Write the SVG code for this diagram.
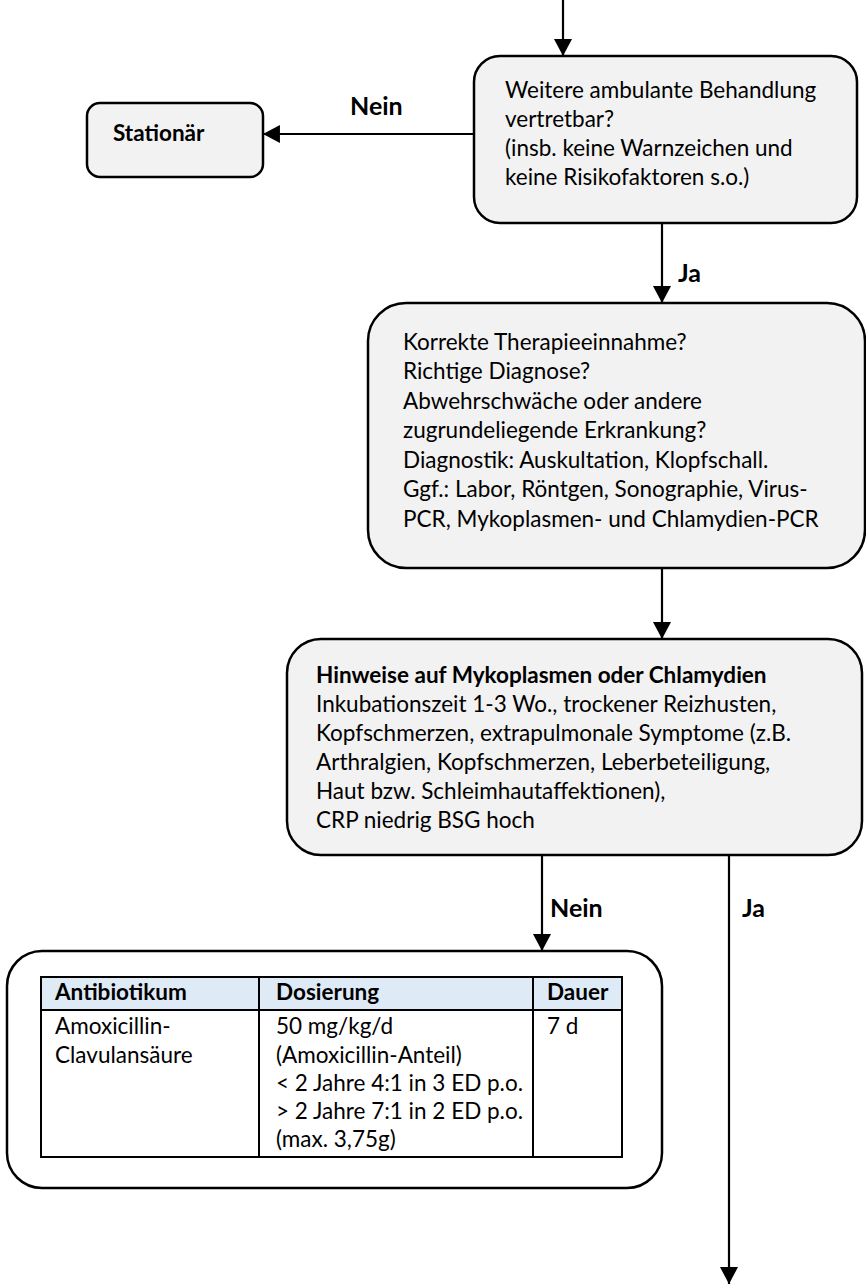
<svg xmlns="http://www.w3.org/2000/svg" width="866" height="1285" viewBox="0 0 866 1285">
  <style>
    .box { fill: #F2F2F2; stroke: #000; stroke-width: 2.5; }
    .frame { fill: #FFFFFF; stroke: #000; stroke-width: 2.5; }
    .txt { font-family: Lato, "Liberation Sans", sans-serif; font-size: 22.5px; fill: #000; }
    .b { font-weight: bold; }
    .lbl { font-family: Lato, "Liberation Sans", sans-serif; font-size: 25px; font-weight: bold; fill: #000; }
    .edge { stroke: #000; stroke-width: 2.2; fill: none; marker-end: url(#arrow); }
    .cell { fill: none; stroke: #000; stroke-width: 2; }
  </style>
  <defs>
    <marker id="arrow" markerUnits="userSpaceOnUse" markerWidth="18" markerHeight="18" viewBox="0 0 16 17" refX="16" refY="8.5" orient="auto">
      <path d="M0,0 L16,8.5 L0,17 z" fill="#000"/>
    </marker>
  </defs>

  <rect width="866" height="1285" fill="#FFFFFF"/>

  <!-- connectors and branch labels -->
  <g id="connectors">
    <line class="edge" x1="563" y1="0" x2="563" y2="56"/>
    <line class="edge" x1="474" y1="134" x2="263" y2="134"/>
    <text class="lbl" x="350" y="115">Nein</text>
    <line class="edge" x1="662" y1="223" x2="662" y2="303"/>
    <text class="lbl" x="678" y="282">Ja</text>
    <line class="edge" x1="662" y1="568" x2="662" y2="639"/>
    <line class="edge" x1="542" y1="855" x2="542" y2="951"/>
    <text class="lbl" x="550" y="917">Nein</text>
    <line class="edge" x1="729" y1="855" x2="729" y2="1284"/>
    <text class="lbl" x="742" y="917">Ja</text>
  </g>

  <!-- decision: outpatient treatment -->
  <g id="node-ambulant">
    <rect class="box" x="474" y="56" width="383" height="167" rx="26"/>
    <text class="txt" x="505" y="98">Weitere ambulante Behandlung</text>
    <text class="txt" x="505" y="127">vertretbar?</text>
    <text class="txt" x="505" y="156">(insb. keine Warnzeichen und</text>
    <text class="txt" x="505" y="185">keine Risikofaktoren s.o.)</text>
  </g>

  <!-- inpatient -->
  <g id="node-stationaer">
    <rect class="box" x="87" y="103" width="176" height="74" rx="13"/>
    <text class="txt b" x="113" y="141">Stationär</text>
  </g>

  <!-- checks and diagnostics -->
  <g id="node-diagnostik">
    <rect class="box" x="368" y="303" width="497" height="265" rx="38"/>
    <text class="txt" x="403" y="350">Korrekte Therapieeinnahme?</text>
    <text class="txt" x="403" y="379">Richtige Diagnose?</text>
    <text class="txt" x="403" y="409">Abwehrschwäche oder andere</text>
    <text class="txt" x="403" y="438">zugrundeliegende Erkrankung?</text>
    <text class="txt" x="403" y="468">Diagnostik: Auskultation, Klopfschall.</text>
    <text class="txt" x="403" y="497">Ggf.: Labor, Röntgen, Sonographie, Virus-</text>
    <text class="txt" x="403" y="527">PCR, Mykoplasmen- und Chlamydien-PCR</text>
  </g>

  <!-- atypical pathogens -->
  <g id="node-mykoplasmen">
    <rect class="box" x="287" y="639" width="575" height="216" rx="34"/>
    <text class="txt b" x="316" y="683">Hinweise auf Mykoplasmen oder Chlamydien</text>
    <text class="txt" x="316" y="712">Inkubationszeit 1-3 Wo., trockener Reizhusten,</text>
    <text class="txt" x="316" y="741">Kopfschmerzen, extrapulmonale Symptome (z.B.</text>
    <text class="txt" x="316" y="770">Arthralgien, Kopfschmerzen, Leberbeteiligung,</text>
    <text class="txt" x="316" y="799">Haut bzw. Schleimhautaffektionen),</text>
    <text class="txt" x="316" y="828">CRP niedrig BSG hoch</text>
  </g>

  <!-- antibiotic table -->
  <g id="node-antibiotikum">
    <rect class="frame" x="7" y="951" width="655" height="237" rx="35"/>
    <rect x="41" y="977" width="581" height="33" fill="#DEEAF6"/>
    <rect class="cell" x="41" y="977" width="581" height="180"/>
    <line class="cell" x1="41" y1="1010" x2="622" y2="1010"/>
    <line class="cell" x1="259" y1="977" x2="259" y2="1157"/>
    <line class="cell" x1="533" y1="977" x2="533" y2="1157"/>
    <text class="txt b" x="55" y="1000">Antibiotikum</text>
    <text class="txt b" x="276" y="1000">Dosierung</text>
    <text class="txt b" x="547" y="1000">Dauer</text>
    <text class="txt" x="55" y="1034">Amoxicillin-</text>
    <text class="txt" x="55" y="1063">Clavulansäure</text>
    <text class="txt" x="276" y="1034">50 mg/kg/d</text>
    <text class="txt" x="276" y="1063">(Amoxicillin-Anteil)</text>
    <text class="txt" x="276" y="1091">&lt; 2 Jahre 4:1 in 3 ED p.o.</text>
    <text class="txt" x="276" y="1119">&gt; 2 Jahre 7:1 in 2 ED p.o.</text>
    <text class="txt" x="276" y="1147">(max. 3,75g)</text>
    <text class="txt" x="547" y="1034">7 d</text>
  </g>
</svg>
